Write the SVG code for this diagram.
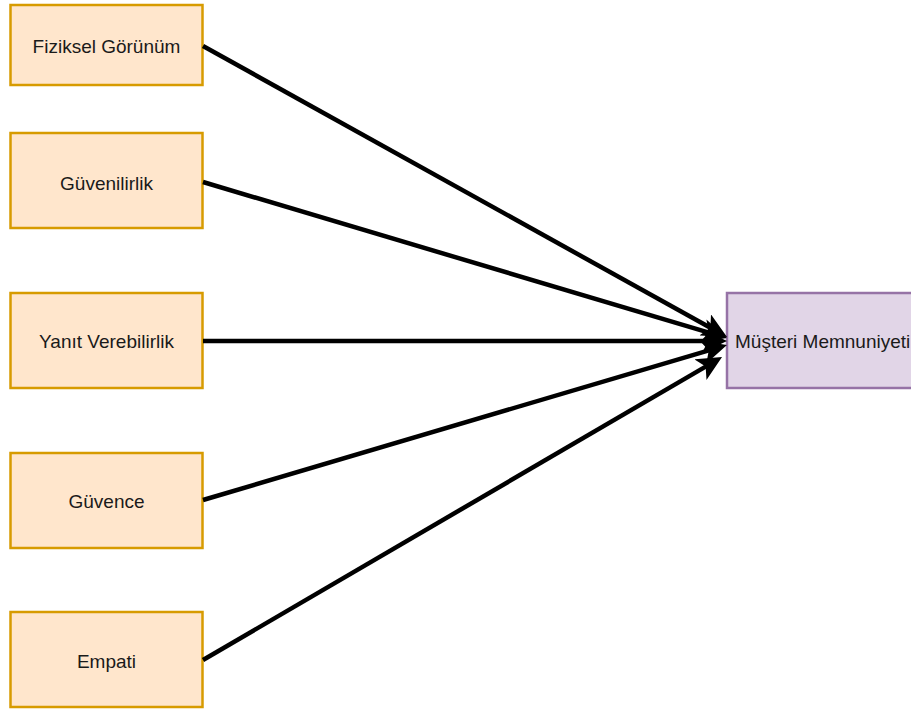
<svg xmlns="http://www.w3.org/2000/svg" width="911" height="710" viewBox="0 0 911 710">
<style>
.src rect{fill:#ffe6cc;stroke:#d79b00;stroke-width:2.5}
.tgt rect{fill:#e1d5e7;stroke:#9673a6;stroke-width:2.5}
text{font-family:"Liberation Sans",Arial,sans-serif;font-size:19px;fill:#1a1a1a;dominant-baseline:central}
.conn line{stroke:#000;stroke-width:4.5;fill:none;marker-end:url(#arr)}
</style>
<defs>
<marker id="arr" markerUnits="userSpaceOnUse" viewBox="0 0 25 24" markerWidth="25" markerHeight="24" refX="7" refY="12" orient="auto">
<path d="M0,0 L25,12 L0,24 L6,12 Z" fill="#000"/>
</marker>
</defs>
<rect width="911" height="710" fill="#fff"/>
<g id="n1" class="src"><rect x="10.5" y="5" width="192" height="80"/><text x="106.5" y="46" text-anchor="middle">Fiziksel Görünüm</text></g>
<g id="n2" class="src"><rect x="10.5" y="133" width="192" height="95"/><text x="106.5" y="183" text-anchor="middle">Güvenilirlik</text></g>
<g id="n3" class="src"><rect x="10.5" y="293" width="192" height="95"/><text x="106.5" y="341" text-anchor="middle">Yanıt Verebilirlik</text></g>
<g id="n4" class="src"><rect x="10.5" y="453" width="192" height="95"/><text x="106.5" y="501" text-anchor="middle">Güvence</text></g>
<g id="n5" class="src"><rect x="10.5" y="612" width="192" height="95"/><text x="106.5" y="661" text-anchor="middle">Empati</text></g>
<g id="target" class="tgt"><rect x="727" y="293" width="200" height="95"/><text x="735" y="341">Müşteri Memnuniyeti</text></g>
<g id="connectors" class="conn">
<line x1="203" y1="46" x2="711.3" y2="328.3"/>
<line x1="203" y1="182" x2="709.7" y2="332.9"/>
<line x1="203" y1="341" x2="709" y2="341"/>
<line x1="203" y1="500" x2="709.7" y2="350.1"/>
<line x1="203" y1="660" x2="706.5" y2="366.1"/>
</g>
</svg>
